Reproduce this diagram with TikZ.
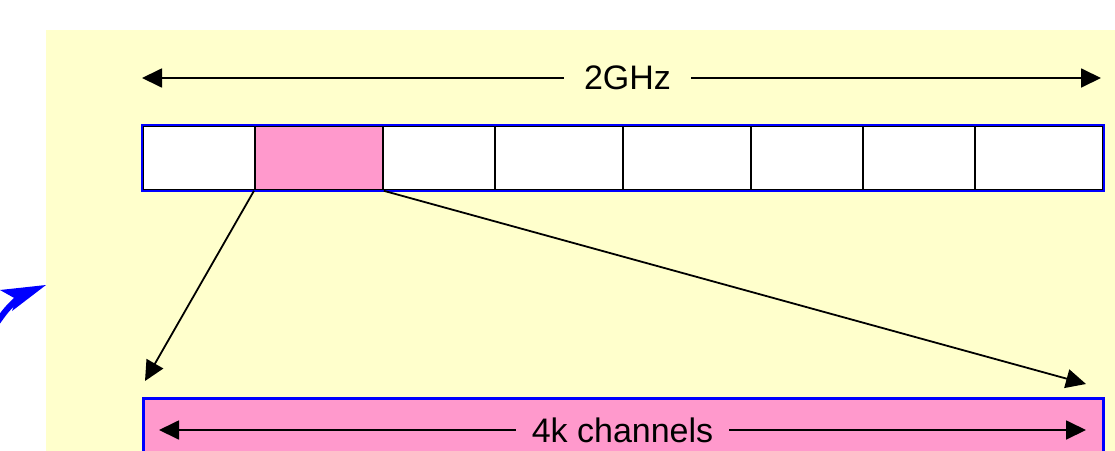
\documentclass[tikz,border=0pt]{standalone}
\usepackage{fontspec}
\setmainfont{Liberation Sans}
\usetikzlibrary{arrows.meta}

\definecolor{bgyellow}{RGB}{255,255,204}
\definecolor{chpink}{RGB}{255,153,204}
\definecolor{frameblue}{RGB}{0,0,255}

\tikzset{
  cell/.style={draw=black, line width=1.8pt, fill=white, minimum height=64pt, inner sep=0pt, anchor=north west},
  span/.style={line width=1.8pt, {Triangle[length=20pt,width=19pt]}-{Triangle[length=20pt,width=19pt]}},
  pointer/.style={line width=1.8pt, -{Triangle[length=20pt,width=19pt]}},
  label/.style={font=\fontsize{34pt}{40pt}\selectfont, inner ysep=2pt}
}

\begin{document}
\begin{tikzpicture}[x=1pt, y=-1pt]

  \useasboundingbox (0,0) rectangle (1115,450);
  \clip (0,0) rectangle (1115,450);

  % arrow coming in from the left
  \draw[line width=6pt, frameblue] (-4,324) .. controls (6,310) .. (18,298);
  \fill[frameblue] (46,285) -- (0,290) -- (16,299) -- (12,311) -- cycle;

  % background
  \fill[bgyellow] (46,30) rectangle (1120,455);

  % cells of the 2GHz band
  \node[cell, minimum width=112pt] (c1) at (142,125) {};
  \node[cell, minimum width=128pt, fill=chpink] (c2) at (254,125) {};
  \node[cell, minimum width=112pt] (c3) at (382,125) {};
  \node[cell, minimum width=128pt] (c4) at (494,125) {};
  \node[cell, minimum width=128pt] (c5) at (622,125) {};
  \node[cell, minimum width=112pt] (c6) at (750,125) {};
  \node[cell, minimum width=112pt] (c7) at (862,125) {};
  \node[cell, minimum width=128pt] (c8) at (974,125) {};
  \draw[frameblue, line width=2.6pt] (c1.north west) rectangle (c8.south east);

  % 4k channel band
  \node[draw=frameblue, line width=2.6pt, fill=chpink, minimum width=960pt, minimum height=70pt, inner sep=0pt, anchor=north west] (band) at (142,397) {};

  % span arrows
  \coordinate (gl) at (142,78);
  \coordinate (gr) at (1101,78);
  \draw[span] (gl) -- node[label, fill=bgyellow, inner xsep=20pt, xshift=6pt] {2GHz} (gr);

  \coordinate (kl) at (159,430);
  \coordinate (kr) at (1086,430);
  \draw[span] (kl) -- node[label, fill=chpink, inner xsep=16pt] {4k channels} (kr);

  % zoom arrows
  \coordinate (zl) at (145,381);
  \coordinate (zr) at (1086,384);
  \draw[pointer] (c2.south west) -- (zl);
  \draw[pointer] (c2.south east) -- (zr);

\end{tikzpicture}
\end{document}
